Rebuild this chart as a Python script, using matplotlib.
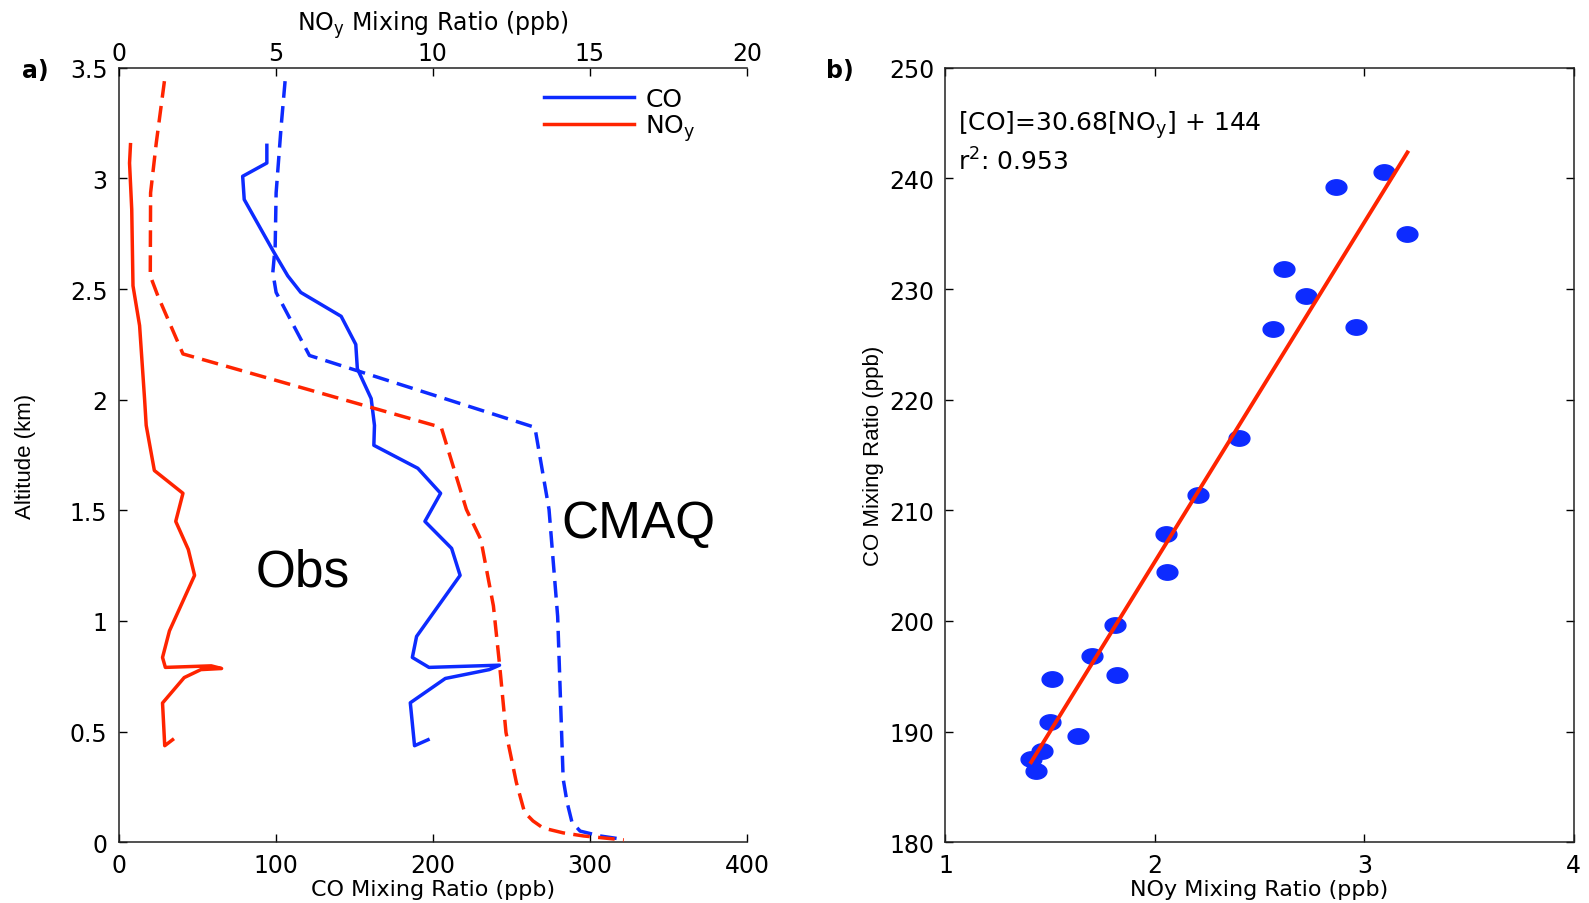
import numpy as np
import matplotlib
matplotlib.use("Agg")
import matplotlib.pyplot as plt
from matplotlib.path import Path
from matplotlib.ticker import FuncFormatter

plt.rcParams['font.family'] = ['DejaVu Sans']
plt.rcParams['mathtext.default'] = 'regular'

BLUE = '#0d2bff'
RED = '#ff2400'

# --- a) vertical profiles ---
# observed CO (ppb) vs altitude (km)
obs_co_alt = [3.15, 3.07, 3.01, 2.905, 2.665, 2.56, 2.485, 2.377, 2.25, 2.14, 2.005,
              1.884, 1.794, 1.69, 1.577, 1.45, 1.328, 1.206, 0.93, 0.835, 0.79, 0.80,
              0.78, 0.74, 0.63, 0.436, 0.463]
obs_co = [94.4, 94.4, 79, 80, 99, 107.7, 116, 141.7, 151, 152, 160.8,
          162.9, 162.5, 190.5, 205, 195, 212, 217.4, 189.7, 187, 197.6, 242.5,
          236, 208, 185.7, 188.4, 197]

# observed NOy (ppb) vs altitude (km)
obs_noy_alt = [3.153, 3.07, 2.86, 2.515, 2.335, 2.0, 1.884, 1.68, 1.577, 1.45, 1.323,
               1.206, 0.955, 0.835, 0.79, 0.797, 0.785, 0.78, 0.744, 0.629, 0.436, 0.463]
obs_noy = [0.38, 0.35, 0.42, 0.46, 0.67, 0.83, 0.88, 1.14, 2.05, 1.82, 2.22,
           2.42, 1.62, 1.40, 1.49, 2.95, 3.28, 2.62, 2.09, 1.40, 1.47, 1.72]

# CMAQ CO
cmaq_co_alt = [3.44, 3.236, 2.935, 2.695, 2.575, 2.485, 2.2, 1.875, 1.504, 1.02, 0.496,
               0.286, 0.18, 0.09, 0.05, 0.028, 0.015]
cmaq_co = [106, 103.5, 100.3, 99.7, 98.2, 100.3, 121.5, 265, 274, 279.5, 282,
           283, 285.5, 288.6, 293.8, 306.5, 319]

# CMAQ NOy
cmaq_noy_alt = [3.44, 3.16, 2.935, 2.56, 2.47, 2.207, 1.875, 1.504, 1.368, 1.068, 0.797,
                0.496, 0.27, 0.135, 0.096, 0.064, 0.042, 0.028, 0.01]
cmaq_noy = [1.46, 1.2, 1.02, 1.01, 1.25, 2.05, 10.27, 11.07, 11.53, 11.93, 12.13,
            12.33, 12.66, 12.92, 13.19, 13.51, 14.15, 14.8, 16.08]

# --- b) CO vs NOy scatter ---
scat_noy = [2.404, 2.205, 2.052, 2.056, 1.811, 1.700, 1.817, 1.507, 1.497, 1.635,
            1.459, 1.409, 1.434, 2.863, 3.095, 3.206, 2.616, 2.722, 2.563, 2.96]
scat_co = [216.54, 211.37, 207.82, 204.45, 199.64, 196.84, 195.10, 194.74, 190.83, 189.56,
           188.21, 187.52, 186.47, 239.19, 240.63, 235.0, 231.86, 229.4, 226.36, 226.6]
slope = 30.68
intercept = 144
r2 = 0.953

fig = plt.figure(figsize=(15.89, 9.04), dpi=100)

tick_kw = dict(direction='in', length=6, width=1, labelsize=17, colors='black')
dash = (0, (4.8, 2.4))

# panel a
ax1 = fig.add_axes([0.0746, 0.0673, 0.3955, 0.8565])
ax1.plot(obs_co, obs_co_alt, color=BLUE, lw=2.5, label='CO')
ax1.plot(cmaq_co, cmaq_co_alt, color=BLUE, lw=2.5, ls=dash)
ax1.set_xlim(0, 400)
ax1.set_ylim(0, 3.5)
ax1.set_xticks([0, 100, 200, 300, 400])
ax1.set_yticks(np.arange(0, 3.51, 0.5))
ax1.yaxis.set_major_formatter(FuncFormatter(lambda v, p: '%g' % v))
ax1.tick_params(top=False, right=False, pad=8, **tick_kw)
ax1.spines['right'].set_visible(False)
ax1.spines['top'].set_visible(False)
ax1.set_xlabel('CO Mixing Ratio (ppb)', fontsize=16, labelpad=1)
ax1.set_ylabel('Altitude (km)', fontsize=16, family='Liberation Sans', labelpad=24)

ax_top = ax1.twiny()
ax_top.plot(obs_noy, obs_noy_alt, color=RED, lw=2.5, label='NO$_\\mathregular{y}$')
ax_top.plot(cmaq_noy, cmaq_noy_alt, color=RED, lw=2.5, ls=dash)
ax_top.set_xlim(0, 20)
ax_top.set_xticks([0, 5, 10, 15, 20])
ax_top.tick_params(bottom=False, pad=2, **tick_kw)
for s in ['left', 'right', 'bottom']:
    ax_top.spines[s].set_visible(False)
ax_top.set_xlabel('NO$_\\mathregular{y}$ Mixing Ratio (ppb)', fontsize=17, labelpad=8)

ax1.text(117, 1.22, 'Obs', fontsize=37, family='Liberation Sans', ha='center', va='center')
ax1.text(331, 1.44, 'CMAQ', fontsize=37, family='Liberation Sans', ha='center', va='center')

handles = ax1.get_lines()[:1] + ax_top.get_lines()[:1]
ax_top.legend(handles, ['CO', 'NO$_\\mathregular{y}$'], loc='upper left',
              bbox_to_anchor=(0.677, 0.975), frameon=False, fontsize=18,
              handlelength=3.6, labelspacing=0.05, borderpad=0, borderaxespad=0,
              handletextpad=0.45)

# panel b
ax2 = fig.add_axes([0.595, 0.0673, 0.3954, 0.8565])
t = np.linspace(0, 2 * np.pi, 40)
ellipse = Path(np.column_stack([1.35 * np.cos(t), np.sin(t)]), closed=True)
ax2.plot(scat_noy, scat_co, ls='none', marker=ellipse, ms=15, color=BLUE, mec=BLUE)
fit_x = np.array([min(scat_noy), max(scat_noy)])
ax2.plot(fit_x, slope * fit_x + intercept, color=RED, lw=2.8)
ax2.set_xlim(1, 4)
ax2.set_ylim(180, 250)
ax2.set_xticks([1, 2, 3, 4])
ax2.set_yticks(np.arange(180, 251, 10))
ax2.tick_params(top=True, right=True, pad=8, **tick_kw)
ax2.set_xlabel('NOy Mixing Ratio (ppb)', fontsize=16, labelpad=1)
ax2.set_ylabel('CO Mixing Ratio (ppb)', fontsize=16, family='Liberation Sans', labelpad=4)
ax2.text(1.058, 244.9, '[CO]=%.2f[NO$_\\mathregular{y}$] + %d' % (slope, intercept),
         fontsize=18, ha='left', va='center')
ax2.text(1.058, 241.6, 'r$^\\mathregular{2}$: %.3f' % r2, fontsize=18, ha='left', va='center')

for a in (ax1, ax_top, ax2):
    for s in a.spines.values():
        s.set_linewidth(1.1)
        s.set_color('#222222')

fig.text(22 / 1589, 1 - 71 / 904, 'a)', fontsize=17, fontweight='bold', va='center')
fig.text(826 / 1589, 1 - 71 / 904, 'b)', fontsize=17, fontweight='bold', va='center')

fig.savefig('out.png', dpi=100)
